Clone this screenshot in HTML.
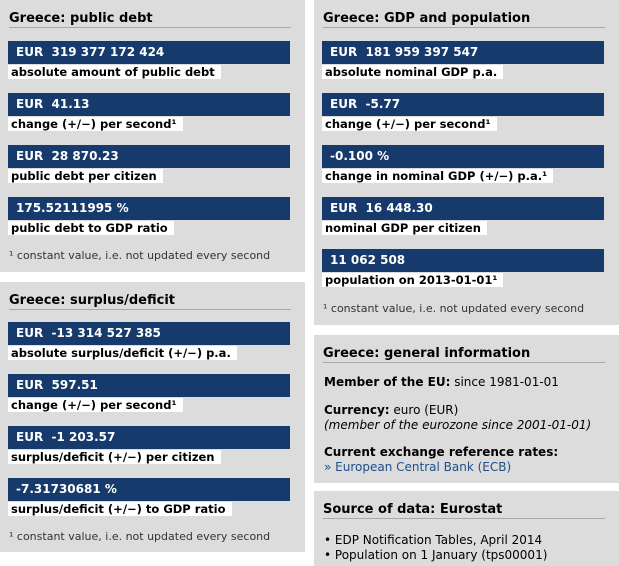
<!DOCTYPE html>
<html><head><meta charset="utf-8"><style>
*{margin:0;padding:0;box-sizing:border-box}
body{width:619px;height:566px;background:#fff;position:relative;overflow:hidden;font-family:"DejaVu Sans",Verdana,sans-serif;color:#000}
.p{position:absolute;background:#dcdcdc}
.t{position:absolute;left:9px;right:14px;font-weight:bold;font-size:13px;border-bottom:1px solid #a8a8a8;height:22px;line-height:25px}
.v{position:absolute;left:8px;width:282px;height:23px;background:#153a6b;color:#fff;font-weight:bold;font-size:12px;line-height:23px;padding-left:8px;white-space:pre}
.l{position:absolute;left:8px;background:#fff;font-weight:bold;font-size:11.5px;line-height:14px;height:14px;padding:0 6px 0 3px;white-space:nowrap}
.f{position:absolute;left:9px;font-size:11px;color:#333}
.r{position:absolute;left:10px;font-size:12px;line-height:15px}
</style></head><body>
<div class="p" style="left:0;top:0;width:305px;height:272px">
<div class="t" style="top:6px">Greece: public debt</div>
<div class="v" style="top:41px">EUR  319 377 172 424</div>
<div class="l" style="top:65px">absolute amount of public debt</div>
<div class="v" style="top:93px">EUR  41.13</div>
<div class="l" style="top:117px">change (+/−) per second¹</div>
<div class="v" style="top:145px">EUR  28 870.23</div>
<div class="l" style="top:169px">public debt per citizen</div>
<div class="v" style="top:197px">175.52111995 %</div>
<div class="l" style="top:221px">public debt to GDP ratio</div>
<div class="f" style="top:249px">¹ constant value, i.e. not updated every second</div>
</div>
<div class="p" style="left:0;top:282px;width:305px;height:270px">
<div class="t" style="top:6px">Greece: surplus/deficit</div>
<div class="v" style="top:40px">EUR  -13 314 527 385</div>
<div class="l" style="top:64px">absolute surplus/deficit (+/−) p.a.</div>
<div class="v" style="top:92px">EUR  597.51</div>
<div class="l" style="top:116px">change (+/−) per second¹</div>
<div class="v" style="top:144px">EUR  -1 203.57</div>
<div class="l" style="top:168px">surplus/deficit (+/−) per citizen</div>
<div class="v" style="top:196px">-7.31730681 %</div>
<div class="l" style="top:220px">surplus/deficit (+/−) to GDP ratio</div>
<div class="f" style="top:248px">¹ constant value, i.e. not updated every second</div>
</div>
<div class="p" style="left:314px;top:0;width:305px;height:325px">
<div class="t" style="top:6px">Greece: GDP and population</div>
<div class="v" style="top:41px">EUR  181 959 397 547</div>
<div class="l" style="top:65px">absolute nominal GDP p.a.</div>
<div class="v" style="top:93px">EUR  -5.77</div>
<div class="l" style="top:117px">change (+/−) per second¹</div>
<div class="v" style="top:145px">-0.100 %</div>
<div class="l" style="top:169px">change in nominal GDP (+/−) p.a.¹</div>
<div class="v" style="top:197px">EUR  16 448.30</div>
<div class="l" style="top:221px">nominal GDP per citizen</div>
<div class="v" style="top:249px">11 062 508</div>
<div class="l" style="top:273px">population on 2013-01-01¹</div>
<div class="f" style="top:302px">¹ constant value, i.e. not updated every second</div>
</div>
<div class="p" style="left:314px;top:335px;width:305px;height:148px">
<div class="t" style="top:6px">Greece: general information</div>
<div class="r" style="top:40px"><b>Member of the EU:</b> since 1981-01-01</div>
<div class="r" style="top:68px"><b>Currency:</b> euro (EUR)<br><i>(member of the eurozone since 2001-01-01)</i></div>
<div class="r" style="top:110px"><b>Current exchange reference rates:</b><br><span style="color:#1f4e8c">» European Central Bank (ECB)</span></div>
</div>
<div class="p" style="left:314px;top:491px;width:305px;height:75px">
<div class="t" style="top:6px">Source of data: Eurostat</div>
<div class="r" style="top:42px">• EDP Notification Tables, April 2014<br>• Population on 1 January (tps00001)</div>
</div>
</body></html>
